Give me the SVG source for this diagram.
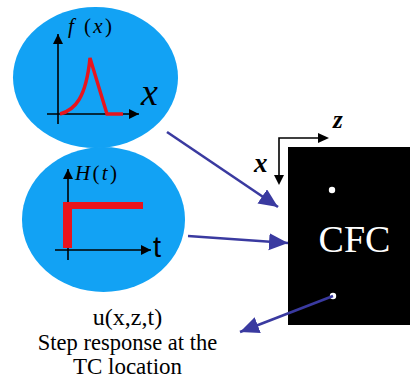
<svg xmlns="http://www.w3.org/2000/svg" width="411" height="378" viewBox="0 0 411 378">
<style>
.blob{fill:#12A2F4}
.ax{stroke:#000;stroke-width:1.6;fill:none}
.red{stroke:#E8141C;fill:none}
.conn{stroke:#3A3AA0;stroke-width:2.6;fill:none}
text.serif{font-family:'Liberation Serif','DejaVu Serif',serif}
text.sans{font-family:'Liberation Sans','DejaVu Sans',sans-serif}
</style>
<defs>
<marker id="ah" markerUnits="userSpaceOnUse" markerWidth="20" markerHeight="18" refX="19" refY="8.5" orient="auto">
<path d="M0,0 L19,8.5 L0,17 z" fill="#3A3AA0"/>
</marker>
<marker id="bk" markerUnits="userSpaceOnUse" markerWidth="12" markerHeight="12" refX="10" refY="5" orient="auto">
<path d="M0,0 L10,5 L0,10 z" fill="#000"/>
</marker>
</defs>
<rect width="411" height="378" fill="#fff"/>

<g id="fx-node">
<ellipse class="blob" cx="95.5" cy="77.5" rx="82.5" ry="70.5"/>
<line class="ax" x1="58" y1="124" x2="58" y2="34" marker-end="url(#bk)"/>
<line class="ax" x1="47" y1="114" x2="139" y2="114" marker-end="url(#bk)"/>
<path class="red" stroke-width="3.4" d="M60,114 C75,110 86,98 90,58 L107,114 L123,114"/>
<text class="serif" font-family="Liberation Serif, serif" x="68" y="33" font-size="21" textLength="44"><tspan font-style="italic">f</tspan> (<tspan font-style="italic">x</tspan>)</text>
<text class="serif" font-family="Liberation Serif, serif" x="141" y="105" font-size="38" font-style="italic">x</text>
</g>

<g id="ht-node">
<ellipse class="blob" cx="103.5" cy="219.5" rx="81.5" ry="72.5"/>
<line class="ax" x1="68" y1="260" x2="68" y2="169" marker-end="url(#bk)"/>
<line class="ax" x1="55" y1="250" x2="151" y2="250" marker-end="url(#bk)"/>
<rect x="63" y="202" width="9" height="46" fill="#E8141C"/>
<rect x="63" y="202" width="80" height="7" fill="#E8141C"/>
<text class="serif" font-family="Liberation Serif, serif" x="75" y="180" font-size="21" textLength="42"><tspan font-style="italic">H</tspan>(<tspan font-style="italic">t</tspan>)</text>
<text class="sans" font-family="Liberation Sans, sans-serif" x="153" y="257" font-size="29">t</text>
</g>

<g id="cfc-node">
<rect x="288" y="147" width="122" height="178" fill="#000"/>
<circle cx="332" cy="190" r="3.2" fill="#fff"/>
<circle cx="333" cy="296" r="3.2" fill="#fff"/>
<text class="serif" font-family="Liberation Serif, serif" x="354.5" y="252" font-size="38" fill="#fff" text-anchor="middle">CFC</text>
</g>

<g id="axes">
<path class="ax" d="M279,183 L279,138 L326,138"/>
<path d="M274,175 L279,185 L284,175 z" fill="#000"/>
<path d="M318,133 L329,138 L318,143 z" fill="#000"/>
<text class="serif" font-family="Liberation Serif, serif" x="333" y="128" font-size="25" font-style="italic" font-weight="bold">z</text>
<text class="serif" font-family="Liberation Serif, serif" x="254" y="172" font-size="27" font-style="italic" font-weight="bold">x</text>
</g>

<g id="label">
<text class="serif" font-family="Liberation Serif, serif" x="127.5" y="325" font-size="24" text-anchor="middle">u(x,z,t)</text>
<text class="serif" font-family="Liberation Serif, serif" x="127.5" y="350" font-size="22.5" text-anchor="middle">Step response at the</text>
<text class="serif" font-family="Liberation Serif, serif" x="127.5" y="374" font-size="23" text-anchor="middle">TC location</text>
</g>

<g id="connectors">
<line class="conn" x1="167" y1="132" x2="278" y2="207" marker-end="url(#ah)"/>
<line class="conn" x1="188" y1="236" x2="288" y2="243" marker-end="url(#ah)"/>
<line class="conn" x1="333" y1="296" x2="240" y2="332" marker-end="url(#ah)"/>
</g>
</svg>
